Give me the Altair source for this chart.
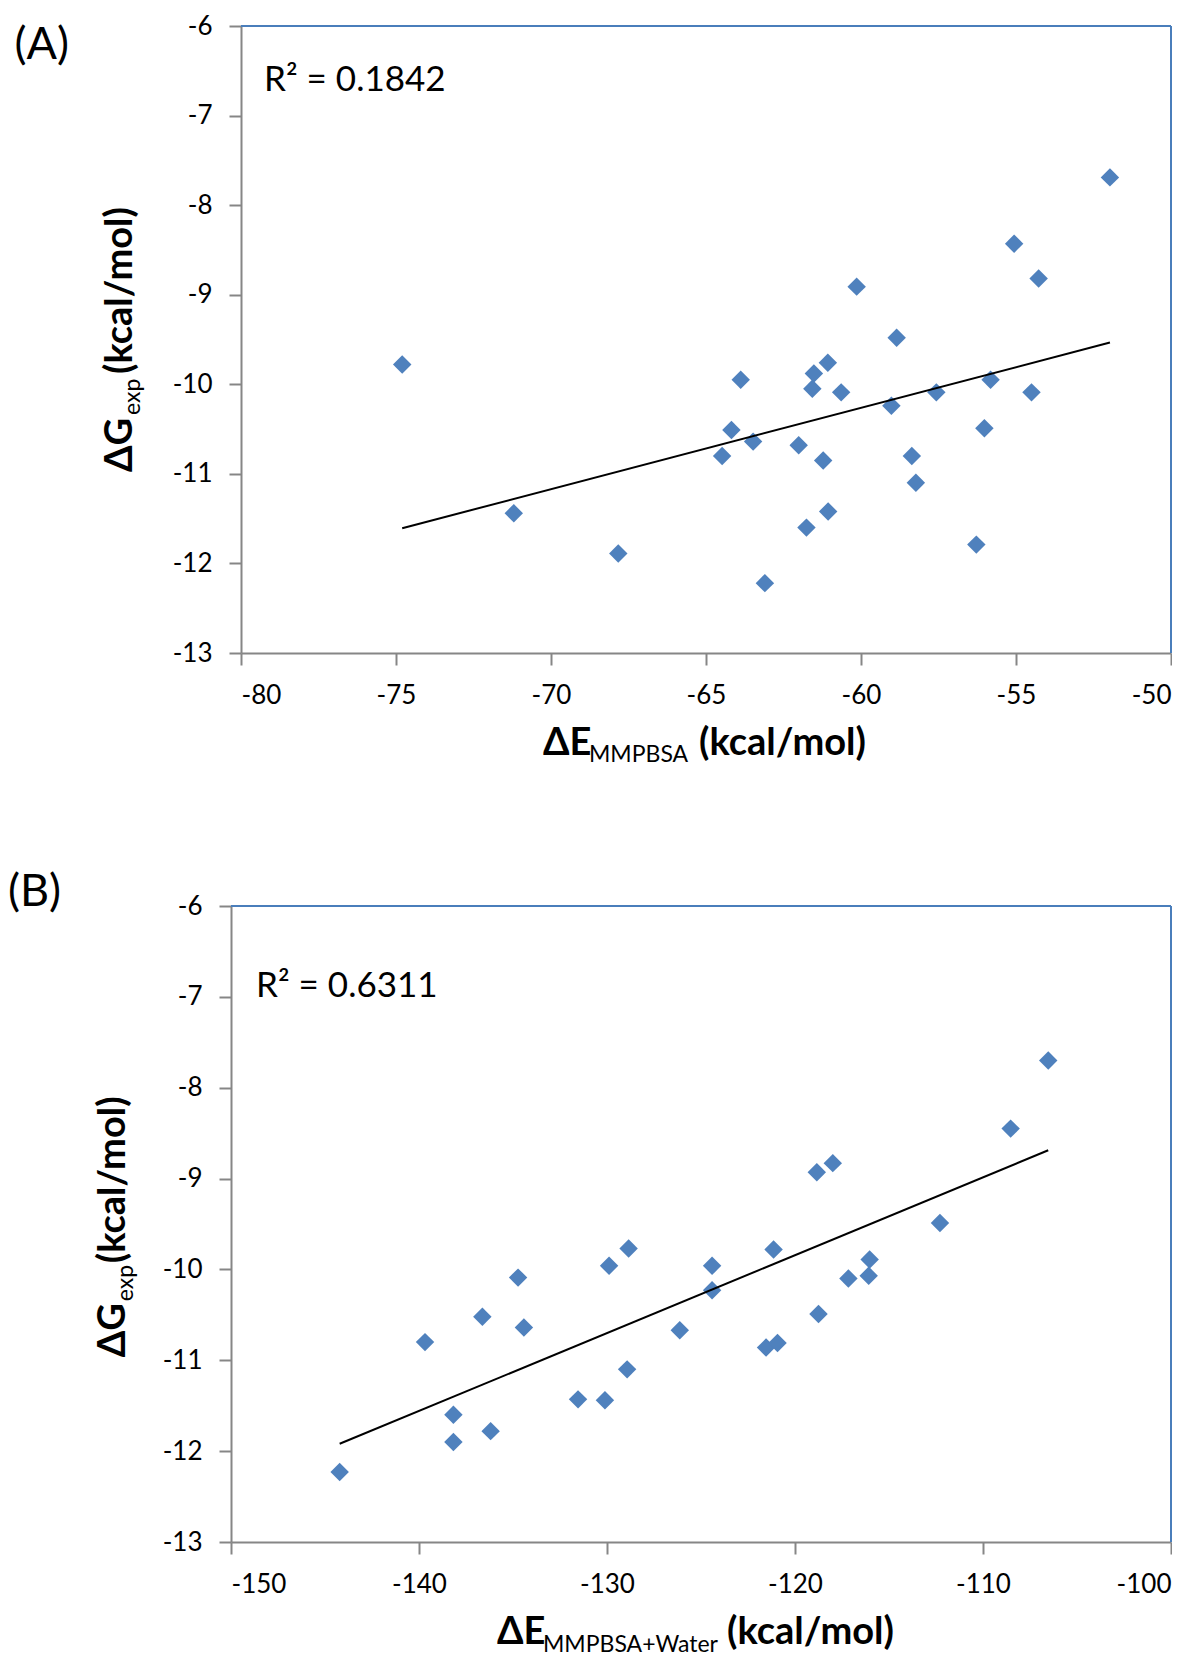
import altair as alt
import pandas as pd

# ---------------- data ----------------
# Panel A: dE_MMPBSA vs dG_exp
A_X = [-51.97, -55.06, -54.27, -60.14, -58.85, -61.07, -61.52, -63.88, -61.57, -60.64,
       -55.82, -57.57, -54.50, -59.02, -64.18, -63.48, -64.48, -62.01, -61.22, -58.36,
       -56.02, -58.23, -61.06, -61.76, -56.28, -67.83, -63.10, -74.80, -71.20]
A_Y = [-7.69, -8.43, -8.82, -8.91, -9.48, -9.76, -9.88, -9.95, -10.05, -10.09,
       -9.95, -10.09, -10.09, -10.24, -10.51, -10.64, -10.80, -10.68, -10.85, -10.80,
       -10.49, -11.10, -11.42, -11.60, -11.79, -11.89, -12.22, -9.78, -11.44]
# Panel B: dE_MMPBSA+Water vs dG_exp
B_X = [-106.53, -108.53, -117.99, -118.84, -112.29, -128.85, -121.14, -129.89, -124.41, -116.03,
       -116.08, -117.16, -124.41, -118.75, -121.54, -120.93, -126.13, -128.93, -130.11, -131.54,
       -134.73, -136.63, -134.42, -139.68, -138.17, -136.19, -138.17, -144.22]
B_Y = [-7.70, -8.45, -8.83, -8.93, -9.49, -9.77, -9.78, -9.96, -9.96, -9.89,
       -10.07, -10.10, -10.23, -10.49, -10.86, -10.81, -10.67, -11.10, -11.44, -11.43,
       -10.09, -10.52, -10.64, -10.80, -11.60, -11.78, -11.90, -12.23]

Y_TICKS = [-13, -12, -11, -10, -9, -8, -7, -6]
A_X_TICKS = [-80, -75, -70, -65, -60, -55, -50]
B_X_TICKS = [-150, -140, -130, -120, -110, -100]
A_R2 = "R\u00b2 = 0.1842"
B_R2 = "R\u00b2 = 0.6311"

# ---------------- styling ----------------
BLUE = "#4a7ebb"
PT = "#4f81bd"
GRAY = "#868686"
FONT = "Lato"
ONE = pd.DataFrame({"k": [0]})

# page positions of the two panel origins (both panels share the same left origin)
ORIGIN_X = 231
A_ORIGIN_Y = 26
B_ORIGIN_Y = 906.7


def txt(s, ax, ay, oy, size, weight="normal", angle=0, baseline="alphabetic"):
    """Text placed at an absolute page position (ax, ay), given the panel origin."""
    return alt.Chart(ONE).mark_text(
        text=s, font=FONT, fontSize=size, fontWeight=weight, angle=angle,
        align="left", baseline=baseline, color="black",
    ).encode(x=alt.value(ax - ORIGIN_X), y=alt.value(ay - oy))


def panel(xs, ys, xticks, w, h, x0, texts):
    df = pd.DataFrame({"x": xs, "y": ys})
    xdom = [xticks[0], xticks[-1]]
    ydom = [Y_TICKS[0], Y_TICKS[-1]]
    xsc = alt.Scale(domain=xdom, nice=False, zero=False, range=[x0, w])
    ysc = alt.Scale(domain=ydom, nice=False, zero=False)
    xax = alt.Axis(values=xticks, title=None, labelExpr="'' + datum.value")
    yax = alt.Axis(values=Y_TICKS, title=None, labelExpr="'' + datum.value", offset=-x0)

    pts = alt.Chart(df).mark_point(
        shape="diamond", filled=True, size=340, color=PT, opacity=1
    ).encode(x=alt.X("x:Q", scale=xsc, axis=xax), y=alt.Y("y:Q", scale=ysc, axis=yax))
    fit = alt.Chart(df).transform_regression("x", "y").mark_line(
        color="black", strokeWidth=2
    ).encode(x="x:Q", y="y:Q")
    top = alt.Chart(ONE).mark_rule(color=BLUE, strokeWidth=2).encode(
        x=alt.datum(xdom[0]), x2=alt.datum(xdom[1]), y=alt.datum(ydom[1]))
    right = alt.Chart(ONE).mark_rule(color=BLUE, strokeWidth=2).encode(
        x=alt.datum(xdom[1]), y=alt.datum(ydom[0]), y2=alt.datum(ydom[1]))
    return alt.layer(top, right, pts, fit, *texts).properties(width=w, height=h)


oa = A_ORIGIN_Y
A_texts = [
    txt("(A)", 14.5, 45, oa, 45, baseline="middle"),
    txt(A_R2, 264, 91, oa, 35),
    txt("\u0394E", 543, 755, oa, 38, "bold"),
    txt("MMPBSA", 589, 762, oa, 23),
    txt("(kcal/mol)", 699, 755, oa, 38, "bold"),
    txt("\u0394G", 132, 472, oa, 38, "bold", angle=270),
    txt("exp", 140, 415, oa, 23, angle=270),
    txt("(kcal/mol)", 132, 374, oa, 38, "bold", angle=270),
]
ob = B_ORIGIN_Y
B_texts = [
    txt("(B)", 8, 893, ob, 45, baseline="middle"),
    txt(B_R2, 256, 998, ob, 35),
    txt("\u0394E", 497, 1645, ob, 38, "bold"),
    txt("MMPBSA+Water", 543, 1653, ob, 23),
    txt("(kcal/mol)", 727, 1645, ob, 38, "bold"),
    txt("\u0394G", 125, 1358, ob, 38, "bold", angle=270),
    txt("exp", 133, 1302, ob, 23, angle=270),
    txt("(kcal/mol)", 125, 1264, ob, 38, "bold", angle=270),
]

# panel A: axis sits 10px right of the shared origin; panel B: axis at the origin
pA = panel(A_X, A_Y, A_X_TICKS, 940, 627, 10, A_texts)
pB = panel(B_X, B_Y, B_X_TICKS, 940, 636, 0, B_texts)

chart = alt.vconcat(pA, pB, spacing=103).properties(
    padding={"top": 5, "left": 0, "right": 0, "bottom": 0}
).configure_view(stroke=None).configure_axis(
    labelFont=FONT, labelFontSize=26, labelColor="#000000",
    domainColor=GRAY, domainWidth=2, tickColor=GRAY, tickWidth=2, tickSize=12,
    labelPadding=17, grid=False,
)

chart.save("out.html", embed_options={"renderer": "svg", "actions": False})
